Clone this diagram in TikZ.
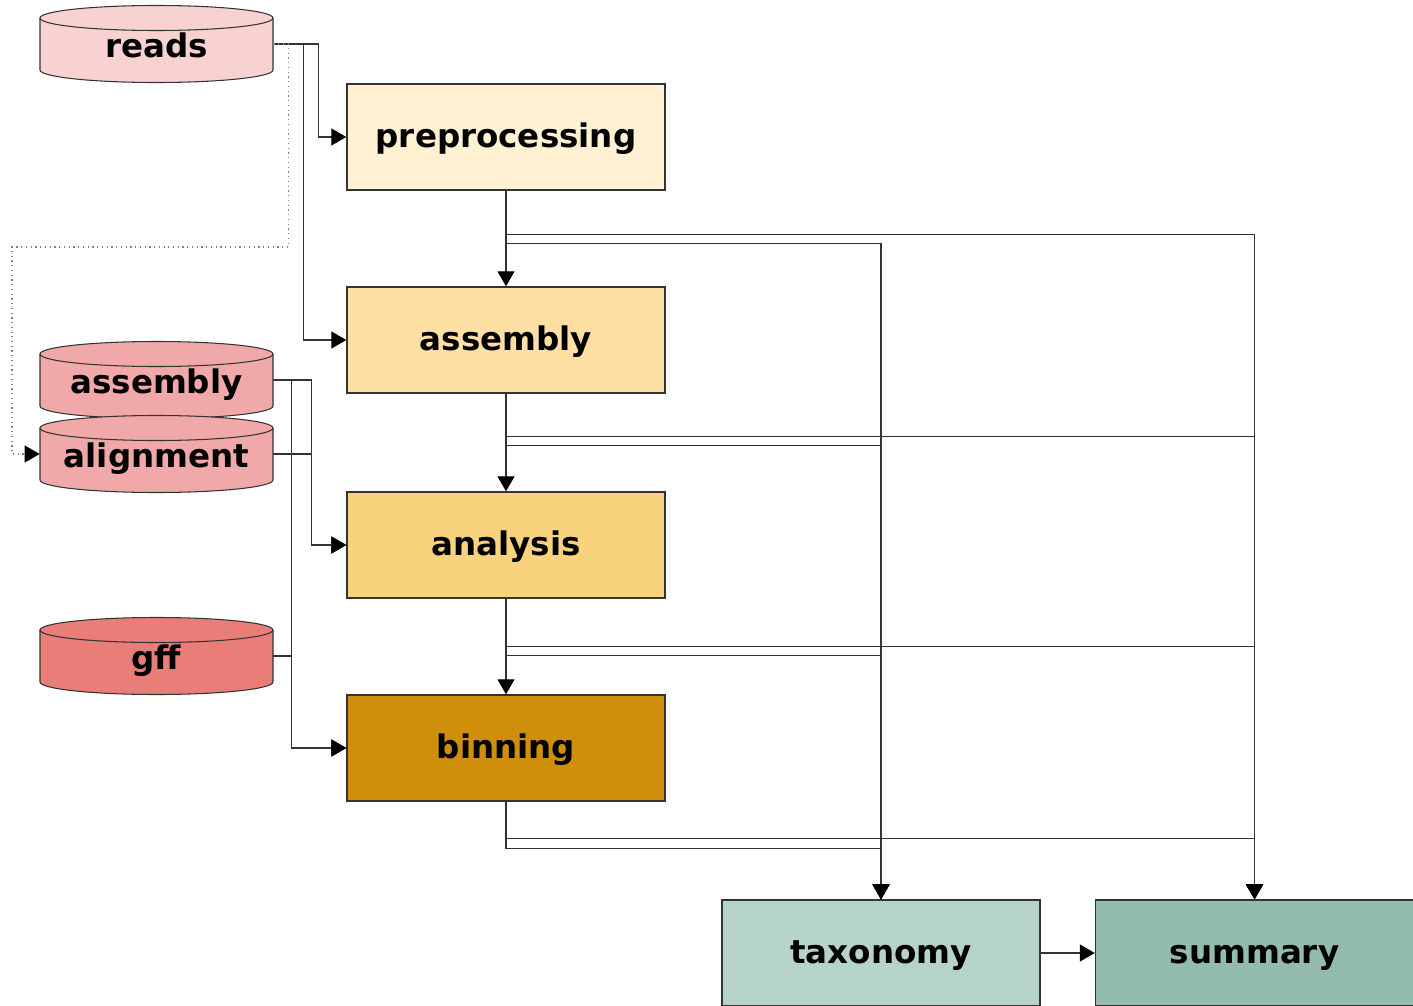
\documentclass[tikz,border=0pt]{standalone}
\usepackage{fontspec}
\setmainfont{DejaVu Sans}
\usetikzlibrary{arrows.meta}

\definecolor{prefill}{HTML}{FFF1D2}
\definecolor{asmfill}{HTML}{FFE0A4}
\definecolor{anafill}{HTML}{F9D27D}
\definecolor{binfill}{HTML}{D08F0A}
\definecolor{taxfill}{HTML}{B5D3CA}
\definecolor{sumfill}{HTML}{93BBB0}
\definecolor{readsfill}{HTML}{F8D1D1}
\definecolor{asmdbfill}{HTML}{F0A9A8}
\definecolor{gfffill}{HTML}{E87E77}

\begin{document}
\begin{tikzpicture}[>={Triangle[length=3mm,width=3.4mm,color=black]},
    font=\fontsize{18.5}{22}\selectfont\bfseries,
    task/.style={draw=black!80,line width=0.8pt,minimum width=6.36cm,minimum height=2.12cm,
        text height=2.4ex,text depth=.25ex},
    db/.style={minimum width=4.66cm,minimum height=1.52cm,text height=3ex,text depth=.25ex},
    dbline/.style={draw=black!80,line width=0.6pt},
    link/.style={->,draw=black!80,line width=0.7pt}]

    \useasboundingbox (0,0) rectangle (28.26,-20.12);

    % Database cylinders (drawn first, named nodes on top)
    \foreach \y/\col in {-0.88/readsfill,-7.60/asmdbfill,-9.08/asmdbfill,-13.12/gfffill} {
        \filldraw [dbline,fill=\col] (0.80,\y+0.52) -- (0.80,\y-0.52)
            arc [start angle=180,end angle=360,x radius=2.33,y radius=0.25]
            -- (5.46,\y+0.52) arc [start angle=0,end angle=180,x radius=2.33,y radius=0.25] -- cycle;
        \draw [dbline] (0.80,\y+0.52) arc [start angle=180,end angle=360,x radius=2.33,y radius=0.25];
    }
    \node [db] (reads) at (3.13,-0.88) {reads};
    \node [db] (asmdb) at (3.13,-7.60) {assembly};
    \node [db] (aln) at (3.13,-9.08) {alignment};
    \node [db] (gff) at (3.13,-13.12) {gff};

    % Task boxes
    \node [task,fill=prefill] (pre) at (10.12,-2.74) {preprocessing};
    \node [task,fill=asmfill] (asm) at (10.12,-6.80) {assembly};
    \node [task,fill=anafill] (ana) at (10.12,-10.90) {analysis};
    \node [task,fill=binfill] (bin) at (10.12,-14.96) {binning};
    \node [task,fill=taxfill] (tax) at (17.62,-19.06) {taxonomy};
    \node [task,fill=sumfill] (sum) at (25.09,-19.06) {summary};

    % reads into the pipeline
    \coordinate (bend) at (0.24,-4.94);
    \draw [link] (reads.east) -- ++(0.9,0) |- (pre.west);
    \draw [link] (reads.east) -- ++(0.6,0) |- (asm.west);
    \draw [link,dotted,draw=black!50] (reads.east) -- ++(0.3,0) |- (bend) |- (aln.west);

    % databases into analysis and binning
    \draw [link] (asmdb.east) -- ++(0.76,0) |- (ana.west);
    \draw [link] (aln.east) -- ++(0.76,0) |- (ana.west);
    \draw [link] (asmdb.east) -- ++(0.36,0) |- (bin.west);
    \draw [link] (gff.east) -- ++(0.36,0) |- (bin.west);

    % Main chain
    \foreach \a/\b in {pre/asm,asm/ana,ana/bin}
        \draw [link] (\a.south) -- (\b.north);
    \draw [link] (tax.east) -- (sum.west);

    % every step feeds taxonomy and summary
    \foreach \a/\s/\t in {pre/0.88/1.06,asm/0.86/1.04,ana/0.96/1.14,bin/0.74/0.94} {
        \draw [link] (\a.south) -- ++(0,-\s) -| (sum.north);
        \draw [link] (\a.south) -- ++(0,-\t) -| (tax.north);
    }

\end{tikzpicture}
\end{document}
